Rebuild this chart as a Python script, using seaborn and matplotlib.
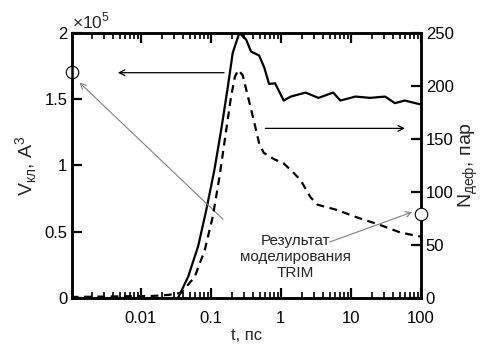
import numpy as np
import pandas as pd
import seaborn as sns
import matplotlib.pyplot as plt

# cluster volume (left axis), A^3
t_v = [0.001, 0.02, 0.034, 0.0475, 0.066, 0.086, 0.113, 0.141, 0.175, 0.206, 0.256, 0.32, 0.375,
       0.49, 0.58, 0.68, 0.83, 1.1, 1.39, 2.26, 3.45, 5.6, 7.1, 11.6, 18.9, 30.8, 42.6, 59, 100]
v_kl = [0, 0, 0, 0.16e5, 0.39e5, 0.66e5, 0.97e5, 1.27e5, 1.59e5, 1.85e5, 2.0e5, 1.95e5, 1.86e5,
        1.83e5, 1.74e5, 1.615e5, 1.62e5, 1.49e5, 1.52e5, 1.55e5, 1.51e5, 1.55e5, 1.49e5, 1.52e5,
        1.51e5, 1.52e5, 1.47e5, 1.49e5, 1.46e5]

# defect pairs (right axis)
t_n = [0.001, 0.015, 0.025, 0.038, 0.059, 0.082, 0.107, 0.133, 0.166, 0.195, 0.222, 0.248, 0.286,
       0.34, 0.42, 0.49, 0.57, 0.80, 1.1, 1.53, 1.92, 2.66, 3.35, 6.4, 12.3, 26, 50, 82, 100]
n_def = [1, 2, 3, 5, 20, 45, 77, 114, 158, 190, 209, 215, 210,
         190, 165, 146, 137, 131, 127, 118, 111, 95, 88, 83, 76, 69, 62, 59, 58]

trim_v = 1.705e5
trim_n = 79

df_v = pd.DataFrame({'t': t_v, 'V': v_kl})
df_n = pd.DataFrame({'t': t_n, 'N': n_def})

sns.set_style('ticks')
plt.rcParams['font.family'] = ['Liberation Sans', 'DejaVu Sans']
plt.rcParams.update({
    'xtick.direction': 'in', 'ytick.direction': 'in',
    'xtick.top': True, 'xtick.bottom': True, 'ytick.left': True,
    'xtick.major.size': 7, 'xtick.minor.size': 4, 'ytick.major.size': 7,
    'xtick.major.width': 1.6, 'xtick.minor.width': 1.2, 'ytick.major.width': 1.6,
    'xtick.color': 'black', 'ytick.color': 'black',
})

fig = plt.figure(figsize=(4.81, 3.54), dpi=100)
ax = fig.add_axes([0.150, 0.158, 0.725, 0.749])
ax2 = ax.twinx()

sns.lineplot(data=df_v, x='t', y='V', ax=ax, color='black', linewidth=1.6)
sns.lineplot(data=df_n, x='t', y='N', ax=ax2, color='black', linewidth=1.6, linestyle='--')
ax2.lines[0].set_dashes((3.5, 2.5))

ax.set_xscale('log')
ax.set_xlim(0.00105, 100)
ax.set_ylim(0, 2e5)
ax2.set_ylim(0, 250)

ax.set_xticks([0.01, 0.1, 1, 10, 100])
ax.set_xticklabels(['0.01', '0.1', '1', '10', '100'])
ax.set_yticks([0, 0.5e5, 1e5, 1.5e5, 2e5])
ax.set_yticklabels(['0', '0.5', '1', '1.5', '2'])
ax2.set_yticks([0, 50, 100, 150, 200, 250])

for a in (ax, ax2):
    for s in a.spines.values():
        s.set_linewidth(1.8)
        s.set_color('black')

ax.tick_params(which='both', direction='in', top=True, bottom=True, labelsize=12,
               color='black', labelcolor='black')
ax.tick_params(which='major', length=7, width=1.6)
ax.tick_params(which='minor', length=4, width=1.2)
ax.tick_params(axis='x', which='major', pad=9)
ax2.tick_params(direction='in', right=True, labelsize=12, length=7, width=1.6,
                color='black', labelcolor='black')

# make sure tick marks are drawn on every side
for a in (ax, ax2):
    for tk in a.xaxis.get_major_ticks() + a.xaxis.get_minor_ticks() + a.yaxis.get_major_ticks():
        for ln in (tk.tick1line, tk.tick2line):
            ln.set_color('black')
            ln.set_zorder(10)

ax.set_xlabel('t, пс', fontsize=12, labelpad=2)
ax.set_ylabel('V$_{\\mathregular{кл}}$, A$^{\\mathregular{3}}$', fontsize=14, labelpad=4)
ax2.set_ylabel('N$_{\\mathregular{деф}}$, пар', fontsize=14, labelpad=2)
ax.text(0.0, 1.005, '×10$^{\\mathregular{5}}$', transform=ax.transAxes, fontsize=12.5,
        va='bottom', ha='left')

# TRIM points
ax.plot([0.00105], [trim_v], 'o', ms=9, mfc='white', mec='black', mew=0.8, clip_on=False, zorder=5)
ax2.plot([100], [trim_n], 'o', ms=9, mfc='white', mec='black', mew=0.8, clip_on=False, zorder=5)

# axis arrows
ax.annotate('', xy=(0.0043, 1.7e5), xytext=(0.17, 1.7e5),
            arrowprops=dict(arrowstyle='->', color='black', lw=0.9))
ax2.annotate('', xy=(65, 160), xytext=(0.55, 160),
             arrowprops=dict(arrowstyle='->', color='black', lw=0.9))

ax.text(1.6, 0.31e5, 'Результат\nмоделирования\nTRIM', ha='center', va='center', fontsize=11,
        linespacing=1.2)
ax.annotate('', xy=(0.00125, 1.64e5), xytext=(0.16, 0.58e5),
            arrowprops=dict(arrowstyle='->', color='grey', lw=0.8))
ax2.annotate('', xy=(82, 82), xytext=(4.6, 52),
             arrowprops=dict(arrowstyle='->', color='grey', lw=0.8))

plt.savefig('out.png', dpi=100)
